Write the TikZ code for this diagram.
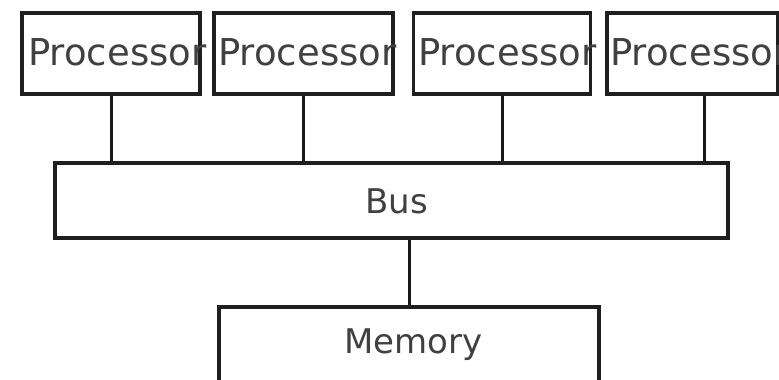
\documentclass[tikz,border=0pt]{standalone}
\usepackage{fontspec}
\setmainfont{DejaVu Sans}
\begin{document}
\begin{tikzpicture}[x=1pt,y=-1pt,
  box/.style={draw=black!88,line width=3.5pt,fill=white,rectangle,inner sep=0pt},
  proc/.style={box,minimum height=81pt},
  ptext/.style={anchor=base west,inner sep=0pt,text=black!75,font=\fontsize{37}{40}\selectfont},
  ctext/.style={anchor=base,inner sep=0pt,text=black!75,font=\fontsize{34}{40}\selectfont},
  wire/.style={draw=black!90,line width=3pt}]
\useasboundingbox (0,0) rectangle (779,380);
\clip (0,0) rectangle (779,380);
% bus and memory
\node[box,minimum width=673pt,minimum height=75pt] (bus) at (391.5,200.5) {};
\node[ctext] (bustext) at (396.5,213) {Bus};
\node[box,minimum width=380pt,minimum height=78pt] (mem) at (409,346) {};
\node[ctext] (memtext) at (413.5,353) {Memory};
% processors
\node[proc,minimum width=178pt] (p1) at (111,53.5) {};
\node[ptext] (t1) at (28,65) {Processor};
\node[proc,minimum width=179pt] (p2) at (303.5,53.5) {};
\node[ptext] (t2) at (218,65) {Processor};
\node[proc,minimum width=177pt] (p3) at (502,53.5) {};
\node[ptext] (t3) at (418,65) {Processor};
\node[proc,minimum width=171pt] (p4) at (692.5,53.5) {};
\node[ptext] (t4) at (610,65) {Processor};
% connectors
\foreach \p in {p1,p2,p3}
  \draw[wire] (\p.south) -- (\p.south |- bus.north);
\draw[wire] ([xshift=11.5pt]p4.south) -- ([xshift=11.5pt]p4.south |- bus.north);
\draw[wire] (mem.north) -- (mem.north |- bus.south);
\end{tikzpicture}
\end{document}
